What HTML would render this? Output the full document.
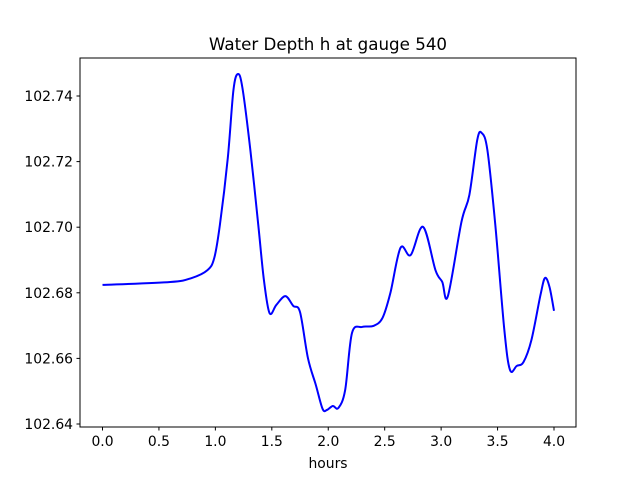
<!DOCTYPE html>
<html><head><meta charset="utf-8"><style>
html,body{margin:0;padding:0;background:#fff;}
svg{display:block;font-family:"DejaVu Sans","Liberation Sans",sans-serif;}
</style></head><body>
<svg id="chart" width="640" height="480" viewBox="0 0 640 480">
<rect width="640" height="480" fill="#fff"/>
<text x="328" y="50" font-size="16.7" text-anchor="middle" fill="#000">Water Depth h at gauge 540</text>
<g id="xticks"></g>
<g id="yticks"></g>
<path id="series" fill="none" stroke="#0000ff" stroke-width="2" stroke-linejoin="round"/>
<rect x="80" y="58" width="496" height="369" fill="none" stroke="#000" stroke-width="1"/>
<text x="328" y="468" font-size="13.9" text-anchor="middle" fill="#000">hours</text>
</svg>
<script>
const hours = [0,0.6,0.79,0.93,0.99,1.04,1.11,1.16,1.2,1.24,1.31,1.38,1.43,1.48,1.54,1.62,1.69,1.75,1.82,1.89,1.95,1.99,2.04,2.09,2.15,2.21,2.3,2.4,2.48,2.55,2.64,2.73,2.84,2.95,3.01,3.06,3.18,3.25,3.32,3.36,3.41,3.48,3.56,3.61,3.67,3.73,3.8,3.88,3.92,3.96,4.0];
const depth = [102.6824,102.6833,102.6845,102.6869,102.6906,102.7007,102.7211,102.7418,102.7467,102.7424,102.7235,102.7007,102.6839,102.6738,102.6763,102.6790,102.6760,102.6741,102.6601,102.6519,102.6446,102.6443,102.6455,102.6449,102.6504,102.6677,102.6696,102.6699,102.6723,102.6799,102.6937,102.6915,102.7001,102.6869,102.6833,102.6790,102.7016,102.7098,102.7266,102.7287,102.7235,102.7007,102.6687,102.6565,102.6577,102.6589,102.6656,102.6793,102.6845,102.6818,102.6745];
const xTickValues = [0,0.5,1,1.5,2,2.5,3,3.5,4];
const xTickLabels = ["0.0","0.5","1.0","1.5","2.0","2.5","3.0","3.5","4.0"];
const yTickValues = [102.64,102.66,102.68,102.70,102.72,102.74];
const yTickLabels = ["102.64","102.66","102.68","102.70","102.72","102.74"];

const NS = "http://www.w3.org/2000/svg";
function sx(v){ return 102.5 + (v - 0) * (554 - 102.5) / 4; }
function sy(v){ return 424 - (v - 102.64) * 3280; }

const xg = document.getElementById('xticks');
xTickValues.forEach((v,i)=>{
  const l = document.createElementNS(NS,'line');
  
  
  l.setAttribute('x1',sx(v)); l.setAttribute('x2',sx(v));
  l.setAttribute('y1',427); l.setAttribute('y2',430.5);
  l.setAttribute('stroke','#000');
  xg.appendChild(l);
  const t = document.createElementNS(NS,'text');
  
  
  t.setAttribute('x',sx(v)); t.setAttribute('y',446);
  t.setAttribute('font-size','13.9'); t.setAttribute('text-anchor','middle');
  t.textContent = xTickLabels[i];
  xg.appendChild(t);
});
const yg = document.getElementById('yticks');
yTickValues.forEach((v,i)=>{
  const l = document.createElementNS(NS,'line');
  
  
  l.setAttribute('x1',76.5); l.setAttribute('x2',80);
  l.setAttribute('y1',sy(v)); l.setAttribute('y2',sy(v));
  l.setAttribute('stroke','#000');
  yg.appendChild(l);
  const t = document.createElementNS(NS,'text');
  
  
  t.setAttribute('x',73); t.setAttribute('y',sy(v)+5);
  t.setAttribute('font-size','13.9'); t.setAttribute('text-anchor','end');
  t.textContent = yTickLabels[i];
  yg.appendChild(t);
});
// Catmull-Rom smoothed path through data points
const pts = hours.map((h,i)=>[sx(h), sy(depth[i])]);
let d = 'M' + pts[0][0] + ',' + pts[0][1];
for(let i=0;i<pts.length-1;i++){
  const p0 = pts[Math.max(0,i-1)], p1 = pts[i], p2 = pts[i+1], p3 = pts[Math.min(pts.length-1,i+2)];
  const c1x = p1[0] + (p2[0]-p0[0])/6, c1y = p1[1] + (p2[1]-p0[1])/6;
  const c2x = p2[0] - (p3[0]-p1[0])/6, c2y = p2[1] - (p3[1]-p1[1])/6;
  d += ' C' + c1x + ',' + c1y + ' ' + c2x + ',' + c2y + ' ' + p2[0] + ',' + p2[1];
}
document.getElementById('series').setAttribute('d', d);
</script>
</body></html>
